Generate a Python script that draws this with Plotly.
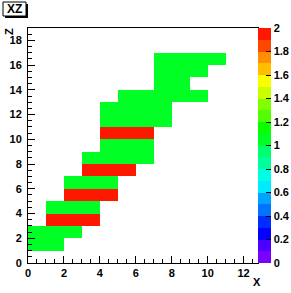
import plotly.graph_objects as go

# ---- data ----
title_text = "XZ"
x_title = "X"
y_title = "Z"
row_y_low = [1, 2, 3, 4, 5, 6, 7, 8, 9, 10, 11, 12, 13, 14, 15, 16]
row_x_start = [0, 0, 1, 1, 2, 2, 3, 3, 4, 4, 4, 4, 5, 7, 7, 7]
row_x_end = [2, 3, 4, 4, 5, 5, 6, 7, 7, 7, 8, 8, 10, 9, 10, 11]
row_value = [1, 1, 2, 1, 2, 1, 2, 1, 1, 2, 1, 1, 1, 1, 1, 1]
n_xbins = 13
n_ybins = 19
x_range = [0, 12.8]
y_range = [0, 19]
z_range = [0, 2]
cbar_tick_vals = [0, 0.2, 0.4, 0.6, 0.8, 1, 1.2, 1.4, 1.6, 1.8, 2]
cbar_tick_text = ["0", "0.2", "0.4", "0.6", "0.8", "1", "1.2", "1.4", "1.6", "1.8", "2"]

# ROOT-like 20-level palette
palette = ["#7a00ff", "#4b00ff", "#0300ff", "#002cff", "#0074ff", "#00a3ff",
           "#00ebff", "#00ffe4", "#00ff9c", "#00ff6d", "#00ff25", "#0aff00",
           "#52ff00", "#81ff00", "#c9ff00", "#f8ff00", "#ffbe00", "#ff8f00",
           "#ff4700", "#ff1800"]

# build histogram grid
z = [[None] * n_xbins for _ in range(n_ybins)]
for yl, xs, xe, v in zip(row_y_low, row_x_start, row_x_end, row_value):
    for xi in range(xs, xe):
        z[yl][xi] = v
x_centers = [i + 0.5 for i in range(n_xbins)]
y_centers = [j + 0.5 for j in range(n_ybins)]

eps = 1e-4
nlev = len(palette)
colorscale = []
for k, c in enumerate(palette):
    lo = 0.0 if k == 0 else k / nlev - eps
    hi = 1.0 if k == nlev - 1 else (k + 1) / nlev - eps
    colorscale.append([lo, c])
    colorscale.append([hi, c])

FONT = "Liberation Sans, Arial, sans-serif"
tickfont = dict(family=FONT, size=11, color="black", weight="bold")

fig = go.Figure(go.Heatmap(
    x=x_centers, y=y_centers, z=z,
    zmin=z_range[0], zmax=z_range[1],
    colorscale=colorscale, hoverinfo="skip",
    colorbar=dict(
        x=1.0, xanchor="left", xpad=0, y=0.5, yanchor="middle", ypad=0,
        len=1, lenmode="fraction", thickness=13, outlinewidth=0,
        tickvals=cbar_tick_vals, ticktext=cbar_tick_text,
        ticks="inside", ticklen=5, tickcolor="black", tickwidth=1,
        tickfont=tickfont,
    ),
))

W, H = 291, 293
L, R, T, B = 28, 33, 28, 30
pw, ph = W - L - R, H - T - B

def px(xp):
    return (xp - L) / pw

def py(yp):
    return 1 - (yp - T) / ph

fig.update_layout(
    width=W, height=H,
    margin=dict(l=L, r=R, t=T, b=B, pad=0, autoexpand=False),
    paper_bgcolor="white", plot_bgcolor="white",
    showlegend=False,
    xaxis=dict(range=x_range, showgrid=False, zeroline=False, automargin=False,
               showline=True, linecolor="black", linewidth=1, mirror=True,
               ticks="inside", ticklen=7, tickcolor="black", dtick=2, tick0=0,
               tickfont=tickfont,
               minor=dict(dtick=0.5, ticks="inside", ticklen=4, tickcolor="black")),
    yaxis=dict(range=y_range, showgrid=False, zeroline=False, automargin=False,
               showline=True, linecolor="black", linewidth=1, mirror=True,
               ticks="inside", ticklen=7, tickcolor="black", dtick=2, tick0=0,
               tickfont=tickfont, ticklabelstandoff=3,
               minor=dict(dtick=0.5, ticks="inside", ticklen=4, tickcolor="black")),
    shapes=[
        dict(type="rect", xref="paper", yref="paper",
             x0=px(5), x1=px(28), y0=py(18), y1=py(4),
             fillcolor="black", line=dict(width=0), layer="above"),
        dict(type="rect", xref="paper", yref="paper",
             x0=px(3), x1=px(26), y0=py(16), y1=py(2),
             fillcolor="white", line=dict(color="black", width=1), layer="above"),
    ],
    annotations=[
        dict(text=title_text, xref="paper", yref="paper",
             x=px(14.5), y=py(9), xanchor="center", yanchor="middle",
             showarrow=False, font=dict(family=FONT, size=12, color="black", weight="bold")),
        dict(text=x_title, xref="paper", yref="paper",
             x=px(257), y=py(282), xanchor="center", yanchor="middle",
             showarrow=False, font=tickfont),
        dict(text=y_title, xref="paper", yref="paper",
             x=px(9), y=py(32), xanchor="center", yanchor="middle", textangle=-90,
             showarrow=False, font=tickfont),
    ],
)

fig.write_html(
    "out.html",
    config={"displayModeBar": False, "staticPlot": True},
    post_script="document.body.style.margin='0';document.body.style.padding='0';"
                "document.body.style.overflow='hidden';",
)
